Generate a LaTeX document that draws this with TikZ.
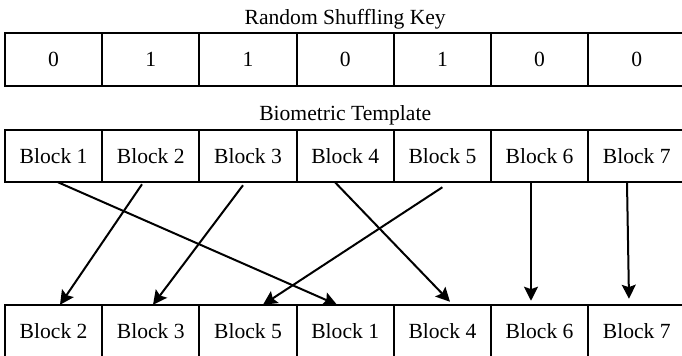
\documentclass[tikz,border=0pt]{standalone}
\usepackage{fontspec}
\setmainfont{Liberation Serif}
\usetikzlibrary{chains,arrows.meta}

\begin{document}
\begin{tikzpicture}
        \tikzstyle{every path}=[line width=1pt]
        \useasboundingbox (0,0) rectangle (341pt,-177.5pt);

        \edef\cellw{48.6pt}
        \tikzstyle{cell}=[draw,minimum width=\cellw,minimum height=26.25pt,inner sep=0pt,outer sep=0pt,font=\fontsize{10.8}{13}\selectfont]
        \tikzstyle{title}=[draw=none,inner sep=0pt,font=\fontsize{10.8}{13}\selectfont]
        \tikzstyle{move}=[-{Stealth[length=7pt,width=7pt,inset=1.2pt]}]

        % shuffling key bits
        \begin{scope}[shift={(26.8pt,-29.75pt)},start chain=key going right,node distance=0pt]
        \foreach \bit [count=\i] in {0,1,1,0,1,0,0} {
            \node [on chain=key,cell] (k\i) {\bit};
        };
        \end{scope}

        % template blocks before shuffling
        \begin{scope}[shift={(26.8pt,-78pt)},start chain=blk going right,node distance=0pt]
        \foreach \i in {1,...,7} {
            \node [on chain=blk,cell] (b\i) {Block \i};
        };
        \end{scope}

        % template blocks after shuffling
        \begin{scope}[shift={(26.8pt,-165.5pt)},start chain=shf going right,node distance=0pt]
        \foreach \j [count=\i] in {2,3,5,1,4,6,7} {
            \node [on chain=shf,cell] (c\i) {Block \j};
        };
        \end{scope}

        \node [title] at ([yshift=7pt]k4.north) (keytitle) {Random Shuffling Key};
        \node [title] at ([yshift=7.4pt]b4.north) (blktitle) {Biometric Template};

        \draw[move] ([xshift=2.2pt]b1.south) to ([xshift=-4.1pt]c4.north);                 % 1->4
        \draw[move] ([xshift=-4.4pt,yshift=-1pt]b2.south) to ([xshift=3.2pt]c1.north);     % 2->1
        \draw[move] ([xshift=-2.5pt,yshift=-1.5pt]b3.south) to ([xshift=1.1pt]c2.north);   % 3->2
        \draw[move] ([xshift=-5.1pt]b4.south) to ([xshift=3.8pt,yshift=1.5pt]c5.north);    % 4->5
        \draw[move] ([yshift=-2.5pt]b5.south) to ([xshift=7.5pt]c3.north);                 % 5->3
        \draw[move] ([xshift=-4.3pt]b6.south) to ([xshift=-4.3pt,yshift=2pt]c6.north);     % 6->6
        \draw[move] ([xshift=-4.9pt]b7.south) to ([xshift=-3.9pt,yshift=3pt]c7.north);     % 7->7

\end{tikzpicture}
\end{document}
